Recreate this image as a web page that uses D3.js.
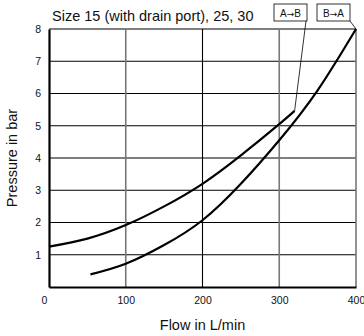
<!DOCTYPE html>
<html>
<head>
<meta charset="utf-8">
<script src="https://cdn.jsdelivr.net/npm/d3@7"></script>
<style>
  body { margin: 0; background: #fff; }
  svg { display: block; font-family: "Liberation Sans", Arial, sans-serif; }
</style>
</head>
<body>
<svg id="chart" width="364" height="336"></svg>
<script>
// chart values
const title = "Size 15 (with drain port), 25, 30";
const xTicks = [0, 100, 200, 300, 400];
const yTicks = [1, 2, 3, 4, 5, 6, 7, 8];

// A -> B
const abFlow = [0, 50, 100, 150, 200, 250, 300, 320];
const abPressure = [1.25, 1.5, 1.92, 2.5, 3.2, 4.08, 5.05, 5.46];

// B -> A
const baFlow = [54, 100, 150, 200, 250, 300, 350, 400];
const baPressure = [0.39, 0.72, 1.3, 2.07, 3.2, 4.55, 6.1, 8.0];

const margin = { top: 29, right: 8, bottom: 49, left: 49 };
const width = 364 - margin.left - margin.right;
const height = 336 - margin.top - margin.bottom;

const svg = d3.select("#chart");
const g = svg.append("g").attr("transform", `translate(${margin.left},${margin.top})`);

const x = d3.scaleLinear().domain([0, 400]).range([0, width]);
const y = d3.scaleLinear().domain([0, 8]).range([height, 0]);

// grid
g.selectAll(".hgrid").data(yTicks).enter().append("line")
  .attr("x1", 0).attr("x2", width)
  .attr("y1", d => y(d)).attr("y2", d => y(d))
  .attr("stroke", "#000").attr("stroke-width", 1.1);
g.selectAll(".vgrid").data(xTicks.slice(1)).enter().append("line")
  .attr("x1", d => x(d)).attr("x2", d => x(d))
  .attr("y1", 0).attr("y2", height)
  .attr("stroke", d => d === 200 ? "#000" : "#777").attr("stroke-width", d => d === 200 ? 1.1 : 1.6);

// axes
const xAxis = d3.axisBottom(x).tickValues(xTicks).tickSize(0).tickPadding(10);
const gx = g.append("g").attr("transform", `translate(0,${height})`).call(xAxis);
gx.select(".domain").attr("stroke-width", 2.2);
gx.selectAll("text").attr("font-size", 10.5).attr("font-family", null).attr("fill", "#111")
  .attr("dx", d => d === 0 ? -5 : 0);

const yAxis = d3.axisLeft(y).tickValues(yTicks).tickSize(0).tickPadding(8);
const gy = g.append("g").call(yAxis);
gy.select(".domain").attr("stroke-width", 2.2);
gy.selectAll("text").attr("font-size", 10.5).attr("font-family", null).attr("fill", "#111");

// curves
const line = d3.line().x(d => x(d[0])).y(d => y(d[1])).curve(d3.curveNatural);
const abData = d3.zip(abFlow, abPressure);
const baData = d3.zip(baFlow, baPressure);
g.append("path").datum(abData).attr("d", line)
  .attr("fill", "none").attr("stroke", "#000").attr("stroke-width", 2.2);
g.append("path").datum(baData).attr("d", line)
  .attr("fill", "none").attr("stroke", "#000").attr("stroke-width", 2.2);

// labels with leader lines
const labels = [
  { from: "A", to: "B", bx: 274, end: abData[abData.length - 1] },
  { from: "B", to: "A", bx: 317, end: baData[baData.length - 1] }
];
labels.forEach((l, i) => {
  const bw = 33, by = 4, bh = 17;
  const lx = i === 0 ? l.bx + bw - 1 : l.bx + bw;
  svg.append("line")
    .attr("x1", lx).attr("y1", by + bh)
    .attr("x2", margin.left + x(l.end[0])).attr("y2", margin.top + y(l.end[1]))
    .attr("stroke", "#000").attr("stroke-width", 0.8);
  svg.append("rect").attr("x", l.bx).attr("y", by).attr("width", bw).attr("height", bh)
    .attr("fill", "#fff").attr("stroke", "#000").attr("stroke-width", 0.8);
  const t = svg.append("text").attr("x", l.bx + bw / 2).attr("y", by + 12.5)
    .attr("text-anchor", "middle").attr("font-size", 10).attr("fill", "#111");
  t.append("tspan").text(l.from);
  t.append("tspan").attr("font-family", "DejaVu Sans").attr("font-size", 9).text("\u2192");
  t.append("tspan").text(l.to);
});

// titles
svg.append("text").attr("x", 52).attr("y", 21)
  .attr("font-size", 14.5).attr("fill", "#111").text(title);
svg.append("text").attr("x", margin.left + width / 2).attr("y", 330)
  .attr("text-anchor", "middle").attr("font-size", 14.5).attr("fill", "#111").text("Flow in L/min");
svg.append("text")
  .attr("transform", `translate(17,${margin.top + height / 2}) rotate(-90)`)
  .attr("text-anchor", "middle").attr("font-size", 14.5).attr("fill", "#111").text("Pressure in bar");
</script>
</body>
</html>
